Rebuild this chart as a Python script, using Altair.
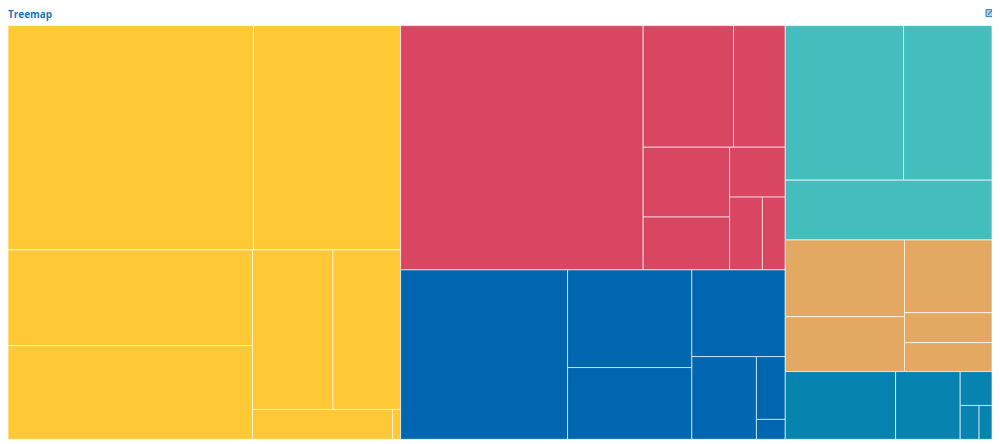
import altair as alt
import pandas as pd

# ---- data (leaf values per top-level group) ----
group_names = ["Group A", "Group B", "Group C", "Group D", "Group E", "Group F"]
group_colors = ["#FFC936", "#D84662", "#0066B0", "#43BEBD", "#E3A962", "#0683AE"]

values_a = [55575, 33300, 23616, 23124, 12960, 10880, 4230, 240]
values_b = [59780, 11102, 6344, 6090, 4611, 2800, 2409, 1679]
values_c = [28560, 12250, 9000, 8178, 5395, 1827, 580]
values_d = [18445, 13795, 12480]
values_e = [9240, 6600, 6424, 2640, 2552]
values_f = [7548, 4420, 1088, 646, 442]

all_values = [values_a, values_b, values_c, values_d, values_e, values_f]

title_text = ["Treemap"]

W, H = 987, 415
PHI = (1 + 5 ** 0.5) / 2


def squarify(values, x0, y0, x1, y1, ratio=PHI):
    """d3-hierarchy squarified treemap tiling."""
    out = [None] * len(values)
    n = len(values)
    i0 = i1 = 0
    value = float(sum(values))
    while i0 < n:
        dx, dy = x1 - x0, y1 - y0
        sumv = values[i1]
        i1 += 1
        minv = maxv = sumv
        alpha = max(dy / dx, dx / dy) / (value * ratio)
        beta = sumv * sumv * alpha
        minr = max(maxv / beta, beta / minv)
        while i1 < n:
            nv = values[i1]
            s = sumv + nv
            mn, mx = min(minv, nv), max(maxv, nv)
            beta = s * s * alpha
            nr = max(mx / beta, beta / mn)
            if nr > minr:
                break
            sumv, minv, maxv, minr = s, mn, mx, nr
            i1 += 1
        row = list(range(i0, i1))
        if dx < dy:
            ny = y0 + dy * sumv / value
            cx = x0
            for k in row:
                w = dx * values[k] / sumv
                out[k] = (cx, y0, cx + w, ny)
                cx += w
            y0 = ny
        else:
            nx = x0 + dx * sumv / value
            cy = y0
            for k in row:
                h = dy * values[k] / sumv
                out[k] = (x0, cy, nx, cy + h)
                cy += h
            x0 = nx
        value -= sumv
        i0 = i1
    return out


group_totals = [sum(v) for v in all_values]
group_rects = squarify(group_totals, 0, 0, W, H)

rows = []
for g, vals, rect in zip(group_names, all_values, group_rects):
    leaves = squarify(vals, *rect)
    for i, (v, r) in enumerate(zip(vals, leaves)):
        rows.append({"group": g, "leaf": f"{g} - {i + 1}", "value": v,
                     "x": r[0], "y": r[1], "x2": r[2], "y2": r[3]})

df = pd.DataFrame(rows)

xs = alt.Scale(domain=[0, W], nice=False, zero=False)
ys = alt.Scale(domain=[0, H], nice=False, zero=False, reverse=True)

rects = alt.Chart(df).mark_rect(
    stroke="white", strokeWidth=1, strokeOpacity=0.65
).encode(
    x=alt.X("x:Q", scale=xs, axis=None),
    x2="x2:Q",
    y=alt.Y("y:Q", scale=ys, axis=None),
    y2="y2:Q",
    color=alt.Color("group:N", scale=alt.Scale(domain=group_names, range=group_colors), legend=None),
    tooltip=["group:N", "leaf:N", "value:Q"],
)

title_df = pd.DataFrame({"t": title_text})
title = alt.Chart(title_df).mark_text(
    align="left", baseline="middle", fontSize=10, fontWeight="bold",
    font="Open Sans", color="#1B75BC",
).encode(
    text="t:N", x=alt.value(0), y=alt.value(-11),
)

icon_df = pd.DataFrame({"k": [0]})
icon_box = alt.Chart(icon_df).mark_rect(
    fill="#A9CDEB", stroke="#2B7CC0", strokeWidth=1
).encode(
    x=alt.value(981), x2=alt.value(988),
    y=alt.value(-16), y2=alt.value(-9),
)
icon_arrow = alt.Chart(icon_df).mark_rule(
    stroke="#2B7CC0", strokeWidth=1.2
).encode(
    x=alt.value(983), x2=alt.value(987),
    y=alt.value(-11), y2=alt.value(-15),
)

chart = alt.layer(rects, title, icon_box, icon_arrow).properties(
    width=W,
    height=H,
    autosize=alt.AutoSizeParams(type="none"),
    padding={"left": 0, "top": 17, "right": 0, "bottom": 0},
).configure_view(strokeWidth=0)

chart.save("out.html", embed_options={"renderer": "svg", "actions": False})
